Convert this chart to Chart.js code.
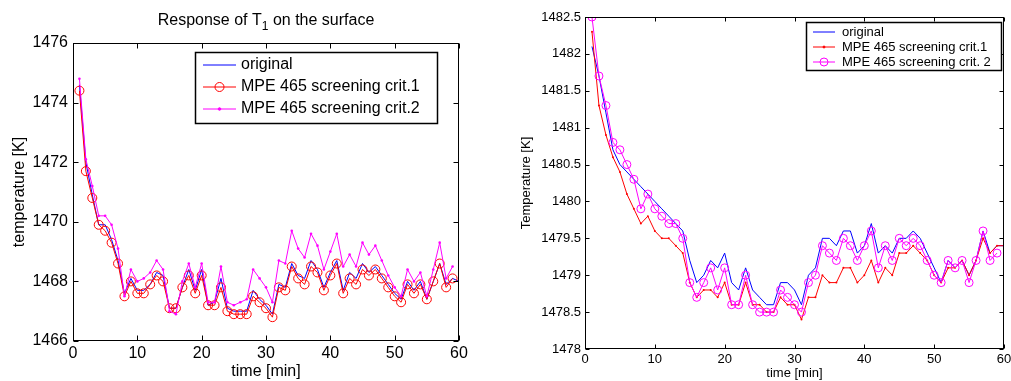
<!DOCTYPE html>
<html>
<head>
<meta charset="utf-8">
<script src="https://cdn.jsdelivr.net/npm/chart.js@4.4.1/dist/chart.umd.min.js"></script>
<style>
  html, body { margin: 0; padding: 0; background: #fff; }
  #wrap { position: relative; width: 1011px; height: 381px; }
  .panel { position: absolute; top: 0; height: 381px; }
  #left { left: 0; width: 505px; }
  #right { left: 505px; width: 506px; }
</style>
</head>
<body>
<div id="wrap">
  <div class="panel" id="left"><canvas id="leftChart"></canvas></div>
  <div class="panel" id="right"><canvas id="rightChart"></canvas></div>
</div>
<script>
// sample times (minutes)
const minutes = [1, 2, 3, 4, 5, 6, 7, 8, 9, 10, 11, 12, 13, 14, 15, 16, 17, 18, 19, 20,
  21, 22, 23, 24, 25, 26, 27, 28, 29, 30, 31, 32, 33, 34, 35, 36, 37, 38, 39, 40,
  41, 42, 43, 44, 45, 46, 47, 48, 49, 50, 51, 52, 53, 54, 55, 56, 57, 58, 59, 60];

// left panel: response of T1 on the surface
const leftNames = ['original', 'MPE 465 screening crit.1', 'MPE 465 screening crit.2'];
const leftOriginal = [1474.6, 1472.0, 1470.9, 1469.9, 1469.9, 1469.4, 1468.7, 1467.6, 1468.1, 1467.7,
  1467.7, 1467.9, 1468.3, 1468.2, 1467.1, 1467.1, 1467.8, 1468.4, 1467.7, 1468.4,
  1467.2, 1467.3, 1468.1, 1467.1, 1467.0, 1467.0, 1467.0, 1467.7, 1467.4, 1467.2,
  1466.9, 1467.9, 1467.8, 1468.6, 1468.2, 1468.1, 1468.7, 1468.4, 1467.8, 1468.3,
  1468.7, 1467.7, 1468.3, 1468.1, 1468.6, 1468.3, 1468.5, 1468.2, 1467.9, 1467.6,
  1467.4, 1468.0, 1467.7, 1468.0, 1467.4, 1468.0, 1468.6, 1467.9, 1468.1, 1468.0];
const leftCrit1 = [1474.4, 1471.7, 1470.8, 1469.9, 1469.7, 1469.3, 1468.6, 1467.5, 1468.0, 1467.6,
  1467.6, 1467.9, 1468.2, 1468.0, 1467.1, 1467.1, 1467.8, 1468.2, 1467.6, 1468.2,
  1467.2, 1467.2, 1467.8, 1467.0, 1466.9, 1466.9, 1466.9, 1467.5, 1467.3, 1467.1,
  1466.8, 1467.8, 1467.7, 1468.5, 1468.1, 1467.9, 1468.5, 1468.3, 1467.7, 1468.2,
  1468.6, 1467.6, 1468.1, 1467.9, 1468.4, 1468.2, 1468.4, 1468.1, 1467.8, 1467.5,
  1467.3, 1467.9, 1467.6, 1467.9, 1467.4, 1468.0, 1468.6, 1467.8, 1468.1];
const leftCrit2 = [1474.8, 1472.1, 1471.2, 1470.2, 1470.2, 1469.9, 1469.1, 1467.5, 1468.4, 1468.0,
  1468.1, 1468.3, 1468.7, 1468.4, 1467.0, 1466.9, 1468.0, 1468.6, 1467.8, 1468.6,
  1467.3, 1467.3, 1468.5, 1467.3, 1467.2, 1467.3, 1467.4, 1468.4, 1468.1, 1467.8,
  1467.3, 1468.7, 1468.6, 1469.7, 1469.1, 1468.8, 1469.6, 1469.2, 1468.4, 1469.0,
  1469.6, 1468.5, 1468.9, 1468.5, 1469.3, 1468.9, 1469.2, 1468.7, 1468.2, 1467.8,
  1467.5, 1468.4, 1468.0, 1468.3, 1467.5, 1468.4, 1469.3, 1468.1, 1468.5];
const leftXTicks = [0, 10, 20, 30, 40, 50, 60];
const leftYTicks = [1466, 1468, 1470, 1472, 1474, 1476];

// right panel
const rightNames = ['original', 'MPE 465 screening crit.1', 'MPE 465 screening crit. 2'];
const rightOriginal = [1482.1, 1481.7, 1481.2, 1480.7, 1480.5, 1480.4, 1480.3, 1480.2, 1480.1, 1480.0,
  1479.9, 1479.8, 1479.7, 1479.6, 1479.2, 1478.9, 1479.0, 1479.2, 1479.1, 1479.3,
  1478.9, 1478.8, 1479.1, 1478.8, 1478.7, 1478.6, 1478.6, 1478.9, 1478.9, 1478.8,
  1478.6, 1479.0, 1479.1, 1479.5, 1479.5, 1479.4, 1479.6, 1479.6, 1479.3, 1479.4,
  1479.7, 1479.3, 1479.4, 1479.3, 1479.5, 1479.5, 1479.6, 1479.5, 1479.3, 1479.1,
  1478.9, 1479.2, 1479.1, 1479.2, 1479.0, 1479.2, 1479.6, 1479.3, 1479.4, 1479.4];
const rightCrit1 = [1482.3, 1481.3, 1480.9, 1480.6, 1480.4, 1480.1, 1479.9, 1479.7, 1479.8, 1479.6,
  1479.5, 1479.5, 1479.4, 1479.3, 1478.9, 1478.7, 1478.8, 1478.8, 1478.7, 1478.9,
  1478.6, 1478.6, 1478.9, 1478.6, 1478.6, 1478.5, 1478.5, 1478.7, 1478.6, 1478.6,
  1478.4, 1478.7, 1478.7, 1479.0, 1478.9, 1478.9, 1479.1, 1479.1, 1478.9, 1479.0,
  1479.2, 1478.9, 1479.1, 1479.0, 1479.3, 1479.3, 1479.4, 1479.3, 1479.2, 1479.0,
  1478.9, 1479.1, 1479.1, 1479.2, 1479.0, 1479.2, 1479.5, 1479.3, 1479.4, 1479.4];
const rightCrit2 = [1482.5, 1481.7, 1481.3, 1480.8, 1480.7, 1480.5, 1480.3, 1479.9, 1480.1, 1479.9,
  1479.8, 1479.7, 1479.7, 1479.5, 1478.9, 1478.7, 1478.9, 1479.1, 1478.8, 1479.1,
  1478.6, 1478.6, 1479.0, 1478.6, 1478.5, 1478.5, 1478.5, 1478.8, 1478.7, 1478.6,
  1478.5, 1478.9, 1479.0, 1479.4, 1479.3, 1479.2, 1479.5, 1479.4, 1479.2, 1479.4,
  1479.6, 1479.1, 1479.4, 1479.2, 1479.5, 1479.4, 1479.5, 1479.4, 1479.2, 1479.0,
  1478.9, 1479.2, 1479.1, 1479.2, 1478.9, 1479.2, 1479.6, 1479.2, 1479.3];
const rightXTicks = [0, 10, 20, 30, 40, 50, 60];
const rightYTicks = [1478, 1478.5, 1479, 1479.5, 1480, 1480.5, 1481, 1481.5, 1482, 1482.5];

const FONT = '"Liberation Sans", Arial, Helvetica, sans-serif';
Chart.defaults.font.family = FONT;
Chart.defaults.color = '#000';

function toPoints(ys) {
  return ys.map((y, i) => ({ x: minutes[i], y: y }));
}

// matlab-like box, inward ticks, legend box and title
const matlabFrame = {
  id: 'matlabFrame',
  afterDatasetsDraw(chart, args, opts) {
    const { ctx, chartArea: a, scales } = chart;
    const L = Math.round(a.left) + 0.5, R = Math.round(a.right) - 0.5;
    const T = Math.round(a.top) + 0.5, B = Math.round(a.bottom) - 0.5;
    const len = opts.tickLen;
    ctx.save();
    ctx.strokeStyle = '#000';
    ctx.lineWidth = 1;
    ctx.beginPath();
    scales.x.ticks.forEach(t => {
      const px = Math.round(scales.x.getPixelForValue(t.value)) + 0.5;
      ctx.moveTo(px, B); ctx.lineTo(px, B - len);
      ctx.moveTo(px, T); ctx.lineTo(px, T + len);
    });
    scales.y.ticks.forEach(t => {
      const py = Math.round(scales.y.getPixelForValue(t.value)) + 0.5;
      ctx.moveTo(L, py); ctx.lineTo(L + len, py);
      ctx.moveTo(R, py); ctx.lineTo(R - len, py);
    });
    ctx.stroke();
    ctx.strokeRect(L, T, R - L, B - T);
    ctx.restore();
  },
  afterDraw(chart, args, opts) {
    const { ctx } = chart;
    const lg = opts.legend;
    ctx.save();
    // legend
    ctx.fillStyle = '#fff';
    ctx.fillRect(lg.x, lg.y, lg.w, lg.h);
    ctx.strokeStyle = '#000';
    ctx.lineWidth = 1.5;
    ctx.strokeRect(lg.x + 0.5, lg.y + 0.5, lg.w, lg.h);
    ctx.font = lg.fontSize + 'px ' + FONT;
    ctx.textBaseline = 'middle';
    ctx.textAlign = 'left';
    chart.data.datasets.forEach((ds, i) => {
      const y = lg.rowY[i];
      ctx.strokeStyle = ds.borderColor;
      ctx.lineWidth = ds.borderWidth;
      ctx.beginPath();
      ctx.moveTo(lg.sx0, y); ctx.lineTo(lg.sx1, y);
      ctx.stroke();
      if (ds.pointRadius > 0) {
        const cx = (lg.sx0 + lg.sx1) / 2;
        ctx.beginPath();
        ctx.arc(cx, y, ds.pointRadius, 0, Math.PI * 2);
        if (ds.pointBackgroundColor !== 'transparent') {
          ctx.fillStyle = ds.pointBackgroundColor;
          ctx.fill();
        }
        ctx.strokeStyle = ds.pointBorderColor;
        ctx.lineWidth = 1;
        ctx.stroke();
      }
      ctx.fillStyle = '#000';
      ctx.fillText(ds.label, lg.tx, y);
    });
    // title with subscript
    if (opts.title) {
      const t = opts.title;
      const cx = (chart.chartArea.left + chart.chartArea.right) / 2;
      ctx.textBaseline = 'alphabetic';
      ctx.font = t.size + 'px ' + FONT;
      const w1 = ctx.measureText(t.before).width;
      const w3 = ctx.measureText(t.after).width;
      ctx.font = t.subSize + 'px ' + FONT;
      const w2 = ctx.measureText(t.sub).width;
      let x = cx - (w1 + w2 + w3) / 2;
      ctx.fillStyle = '#000';
      ctx.font = t.size + 'px ' + FONT;
      ctx.fillText(t.before, x, t.y);
      x += w1;
      ctx.font = t.subSize + 'px ' + FONT;
      ctx.fillText(t.sub, x, t.y + t.subDrop);
      x += w2;
      ctx.font = t.size + 'px ' + FONT;
      ctx.fillText(t.after, x, t.y);
    }
    ctx.restore();
  }
};

function makePanel(id, p) {
  return new Chart(document.getElementById(id), {
    type: 'line',
    data: { datasets: p.datasets },
    options: {
      responsive: true,
      maintainAspectRatio: false,
      animation: false,
      layout: { padding: p.padding },
      plugins: {
        legend: { display: false },
        tooltip: { enabled: false },
        matlabFrame: p.frame
      },
      scales: {
        x: {
          type: 'linear', min: 0, max: 60,
          afterBuildTicks: s => { s.ticks = p.xTicks.map(v => ({ value: v })); },
          afterFit: s => { s.height = p.xHeight; s.paddingLeft = 0; s.paddingRight = 0; },
          ticks: { font: { size: p.fontSize }, color: '#000', padding: p.xPad, maxRotation: 0, autoSkip: false,
                   callback: v => String(v) },
          grid: { display: false, drawTicks: false },
          border: { display: false },
          title: { display: true, text: 'time [min]', color: '#000', font: { size: p.fontSize }, padding: { top: 0, bottom: 0 } }
        },
        y: {
          type: 'linear', min: p.yMin, max: p.yMax,
          afterBuildTicks: s => { s.ticks = p.yTicks.map(v => ({ value: v })); },
          afterFit: s => { s.width = p.yWidth; s.paddingTop = 0; s.paddingBottom = 0; },
          ticks: { font: { size: p.fontSize }, color: '#000', padding: p.yPad, autoSkip: false,
                   callback: v => String(v) },
          grid: { display: false, drawTicks: false },
          border: { display: false },
          title: { display: true, text: p.yTitle, color: '#000', font: { size: p.fontSize }, padding: { top: p.yTitlePad, bottom: 0 } }
        }
      }
    },
    plugins: [matlabFrame]
  });
}

makePanel('leftChart', {
  datasets: [
    { label: leftNames[0], data: toPoints(leftOriginal), borderColor: '#0000ff', borderWidth: 1,
      pointRadius: 0, pointBackgroundColor: '#0000ff', pointBorderColor: '#0000ff', order: 3 },
    { label: leftNames[1], data: toPoints(leftCrit1), borderColor: '#ff0000', borderWidth: 1,
      pointRadius: 4.5, pointBackgroundColor: 'transparent', pointBorderColor: '#ff0000', pointBorderWidth: 1, order: 2 },
    { label: leftNames[2], data: toPoints(leftCrit2), borderColor: '#ff00ff', borderWidth: 1,
      pointRadius: 1.3, pointBackgroundColor: '#ff00ff', pointBorderColor: '#ff00ff', pointBorderWidth: 0, order: 1 }
  ],
  padding: { left: 0, right: 46, top: 43, bottom: 0 },
  xTicks: leftXTicks, yTicks: leftYTicks, yMin: 1466, yMax: 1476,
  xHeight: 40, yWidth: 73, fontSize: 16, xPad: 3, yPad: 5, yTitlePad: 10,
  yTitle: 'temperature [K]',
  frame: {
    tickLen: 5,
    legend: { x: 195, y: 52, w: 242, h: 71, rowY: [65, 87, 109], sx0: 203, sx1: 236, tx: 241, fontSize: 16 },
    title: { before: 'Response of T', sub: '1', after: ' on the surface', size: 16, subSize: 12, y: 25, subDrop: 5 }
  }
});

makePanel('rightChart', {
  datasets: [
    { label: rightNames[0], data: toPoints(rightOriginal), borderColor: '#0000ff', borderWidth: 1,
      pointRadius: 0, pointBackgroundColor: '#0000ff', pointBorderColor: '#0000ff', order: 3 },
    { label: rightNames[1], data: toPoints(rightCrit1), borderColor: '#ff0000', borderWidth: 1,
      pointRadius: 1, pointBackgroundColor: '#ff0000', pointBorderColor: '#ff0000', pointBorderWidth: 0, order: 2 },
    { label: rightNames[2], data: toPoints(rightCrit2), borderColor: '#ff00ff', borderWidth: 1,
      pointRadius: 4, pointBackgroundColor: 'transparent', pointBorderColor: '#ff00ff', pointBorderWidth: 1, order: 1 }
  ],
  padding: { left: 0, right: 7, top: 17, bottom: 0 },
  xTicks: rightXTicks, yTicks: rightYTicks, yMin: 1478, yMax: 1482.5,
  xHeight: 32, yWidth: 80, fontSize: 13, xPad: 3, yPad: 4, yTitlePad: 14,
  yTitle: 'Temperature [K]',
  frame: {
    tickLen: 4,
    legend: { x: 301, y: 22, w: 195, h: 48, rowY: [32, 47, 62], sx0: 308, sx1: 330, tx: 337, fontSize: 13 }
  }
});
</script>
</body>
</html>
